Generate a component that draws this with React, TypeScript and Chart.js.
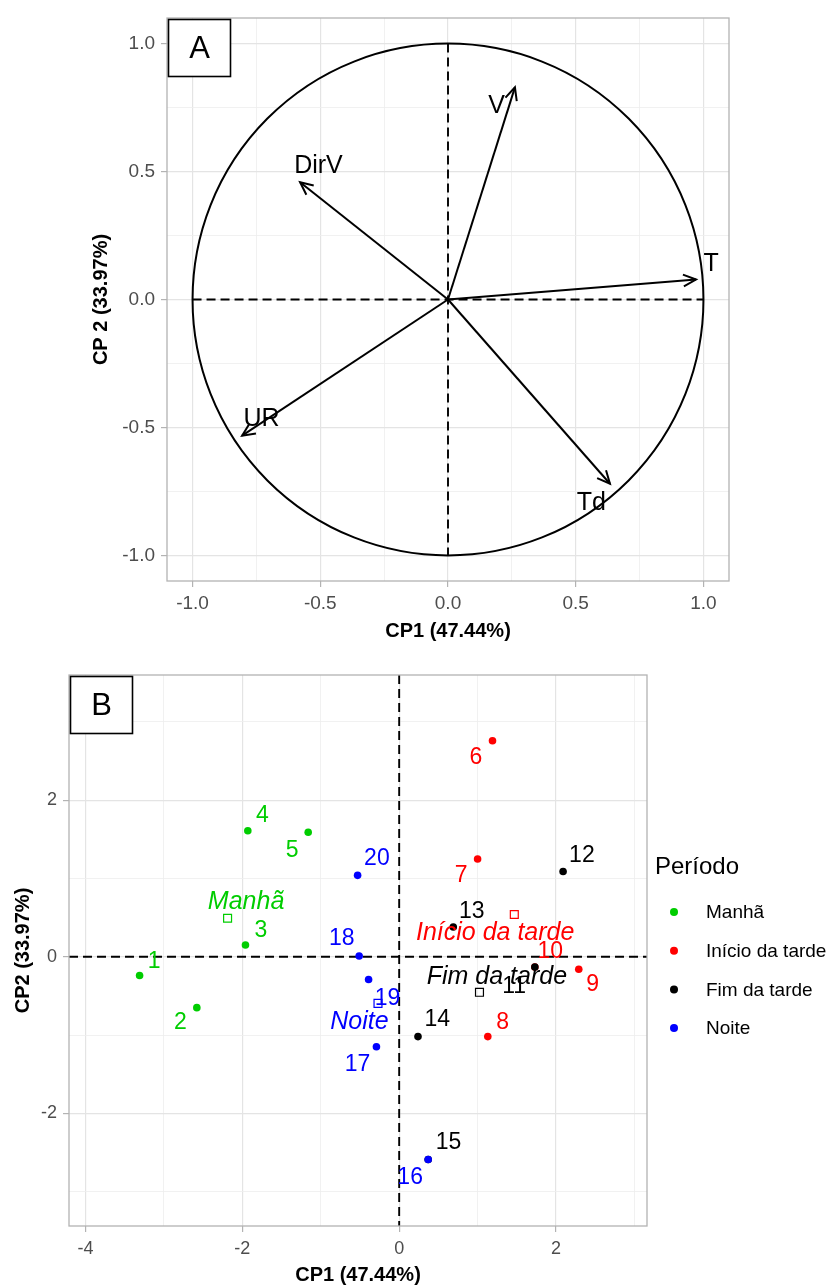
import React, { useEffect, useRef } from 'react';
import { Chart, registerables } from 'chart.js';

Chart.register(...registerables);

const FONT = '"Liberation Sans", Arial, Helvetica, sans-serif';
const TICK_TEXT = '#4D4D4D';
const GRID_MAJOR = '#E4E4E4';
const GRID_MINOR = '#EEEEEE';
const PANEL_BORDER = '#B3B3B3';

// ---------------- Panel A: variable loadings ----------------
const variableNames = ['V', 'DirV', 'T', 'UR', 'Td'];
const variableCP1 = [0.262, -0.579, 0.971, -0.806, 0.634];
const variableCP2 = [0.829, 0.458, 0.078, -0.532, -0.72];
const variableLabelCP1 = [0.19, -0.507, 1.03, -0.73, 0.561];
const variableLabelCP2 = [0.757, 0.523, 0.14, -0.466, -0.794];
const circleTicks = [-1, -0.5, 0, 0.5, 1];
const circleTickLabels = ['-1.0', '-0.5', '0.0', '0.5', '1.0'];
const circleMinorTicks = [-0.75, -0.25, 0.25, 0.75];
const circleRange = [-1.1, 1.1];

// ---------------- Panel B: observation scores ----------------
const periods = ['Manhã', 'Início da tarde', 'Fim da tarde', 'Noite'];
const periodColors = ['#00CD00', '#FF0000', '#000000', '#0000FF'];
const observationIds = ['1', '2', '3', '4', '5', '6', '7', '8', '9', '10', '11', '12', '13', '14', '15', '16', '17', '18', '19', '20'];
const observationPeriod = [0, 0, 0, 0, 0, 1, 1, 1, 1, 1, 2, 2, 2, 2, 2, 3, 3, 3, 3, 3];
const scoreCP1 = [-3.31, -2.58, -1.96, -1.93, -1.16, 1.19, 1.0, 1.13, 2.29, 1.73, 1.73, 2.09, 0.69, 0.24, 0.37, 0.37, -0.29, -0.51, -0.39, -0.53];
const scoreCP2 = [-0.24, -0.65, 0.15, 1.61, 1.59, 2.76, 1.25, -1.02, -0.16, -0.13, -0.13, 1.09, 0.38, -1.02, -2.59, -2.59, -1.15, 0.01, -0.29, 1.04];
const scoreLabelCP1 = [-3.125, -2.79, -1.764, -1.744, -1.365, 0.978, 0.79, 1.318, 2.466, 1.926, 1.467, 2.33, 0.927, 0.485, 0.629, 0.14, -0.532, -0.731, -0.149, -0.284];
const scoreLabelCP2 = [-0.064, -0.847, 0.332, 1.8, 1.355, 2.54, 1.04, -0.84, -0.358, 0.064, -0.383, 1.295, 0.579, -0.805, -2.373, -2.828, -1.38, 0.226, -0.537, 1.249];
const periodLabelCP1 = [-1.952, 1.224, 1.246, -0.506];
const periodLabelCP2 = [0.699, 0.303, -0.259, -0.84];
const scoreXTicks = [-4, -2, 0, 2];
const scoreXTickLabels = ['-4', '-2', '0', '2'];
const scoreXMinorTicks = [-3, -1, 1, 3];
const scoreYTicks = [-2, 0, 2];
const scoreYTickLabels = ['-2', '0', '2'];
const scoreYMinorTicks = [-3, -1, 1, 3];
const scoreXRange = [-4.21, 3.16];
const scoreYRange = [-3.44, 3.6];

const near = (a: number, b: number) => Math.abs(a - b) < 1e-9;

function makeAxis(o: any) {
  const all = [...o.major, ...o.minor].sort((a: number, b: number) => a - b);
  const isMajor = (v: number) => o.major.some((m: number) => near(m, v));
  return {
    type: 'linear',
    min: o.range[0],
    max: o.range[1],
    afterBuildTicks: (scale: any) => {
      scale.ticks = all.map((v: number) => ({ value: v }));
    },
    afterFit: (scale: any) => {
      if (o.isX) scale.height = o.fit;
      else scale.width = o.fit;
    },
    ticks: {
      autoSkip: false,
      maxRotation: 0,
      minRotation: 0,
      padding: o.tickPadding,
      color: TICK_TEXT,
      font: { family: FONT, size: o.tickSize },
      callback: (v: number) => {
        const i = o.major.findIndex((m: number) => near(m, v));
        return i >= 0 ? o.labels[i] : '';
      },
    },
    grid: {
      drawTicks: true,
      tickLength: 6,
      color: (c: any) => (c.tick && isMajor(c.tick.value) ? GRID_MAJOR : GRID_MINOR),
      lineWidth: (c: any) => (c.tick && isMajor(c.tick.value) ? 1.2 : 0.8),
      tickColor: (c: any) => (c.tick && isMajor(c.tick.value) ? PANEL_BORDER : 'rgba(0,0,0,0)'),
      tickWidth: 1.2,
    },
    border: { display: false },
    title: {
      display: true,
      text: o.title,
      color: '#000000',
      font: { family: FONT, size: 20, weight: 'bold', lineHeight: 1 },
      padding: o.titlePadding,
    },
  };
}

function drawPanelFrame(chart: any, tag: string) {
  const { ctx, chartArea } = chart;
  ctx.save();
  ctx.strokeStyle = PANEL_BORDER;
  ctx.lineWidth = 1.3;
  ctx.strokeRect(chartArea.left, chartArea.top, chartArea.right - chartArea.left, chartArea.bottom - chartArea.top);
  const bx = chartArea.left + 1.5;
  const by = chartArea.top + 1.5;
  const bw = 62;
  const bh = 57;
  ctx.fillStyle = '#FFFFFF';
  ctx.fillRect(bx, by, bw, bh);
  ctx.strokeStyle = '#000000';
  ctx.lineWidth = 1.6;
  ctx.strokeRect(bx, by, bw, bh);
  ctx.fillStyle = '#000000';
  ctx.font = `31px ${FONT}`;
  ctx.textAlign = 'center';
  ctx.textBaseline = 'middle';
  ctx.fillText(tag, bx + bw / 2, by + bh / 2 + 1);
  ctx.restore();
}

const loadingsPlugin = {
  id: 'loadingsDecor',
  beforeDatasetsDraw(chart: any) {
    const { ctx, scales } = chart;
    const x = scales.x;
    const y = scales.y;
    const cx = x.getPixelForValue(0);
    const cy = y.getPixelForValue(0);
    const rx = x.getPixelForValue(1) - cx;
    const ry = cy - y.getPixelForValue(1);
    ctx.save();
    ctx.strokeStyle = '#000000';
    ctx.lineWidth = 2;
    ctx.beginPath();
    ctx.ellipse(cx, cy, rx, ry, 0, 0, Math.PI * 2);
    ctx.stroke();
    ctx.setLineDash([9, 5]);
    ctx.lineWidth = 1.9;
    ctx.beginPath();
    ctx.moveTo(x.getPixelForValue(-1), cy);
    ctx.lineTo(x.getPixelForValue(1), cy);
    ctx.moveTo(cx, y.getPixelForValue(1));
    ctx.lineTo(cx, y.getPixelForValue(-1));
    ctx.stroke();
    ctx.restore();
  },
  afterDatasetsDraw(chart: any) {
    const { ctx, scales } = chart;
    const x = scales.x;
    const y = scales.y;
    const ox = x.getPixelForValue(0);
    const oy = y.getPixelForValue(0);
    ctx.save();
    ctx.strokeStyle = '#000000';
    ctx.lineWidth = 2;
    ctx.lineJoin = 'miter';
    const len = 14;
    const ang = (25 * Math.PI) / 180;
    variableNames.forEach((name, i) => {
      const tx = x.getPixelForValue(variableCP1[i]);
      const ty = y.getPixelForValue(variableCP2[i]);
      const a = Math.atan2(ty - oy, tx - ox);
      ctx.beginPath();
      ctx.moveTo(tx - len * Math.cos(a - ang), ty - len * Math.sin(a - ang));
      ctx.lineTo(tx, ty);
      ctx.lineTo(tx - len * Math.cos(a + ang), ty - len * Math.sin(a + ang));
      ctx.stroke();
    });
    ctx.fillStyle = '#000000';
    ctx.font = `25px ${FONT}`;
    ctx.textAlign = 'center';
    ctx.textBaseline = 'middle';
    variableNames.forEach((name, i) => {
      ctx.fillText(name, x.getPixelForValue(variableLabelCP1[i]), y.getPixelForValue(variableLabelCP2[i]));
    });
    ctx.restore();
  },
  afterDraw(chart: any) {
    drawPanelFrame(chart, 'A');
  },
};

const scoresPlugin = {
  id: 'scoresDecor',
  beforeDatasetsDraw(chart: any) {
    const { ctx, chartArea, scales } = chart;
    const cx = scales.x.getPixelForValue(0);
    const cy = scales.y.getPixelForValue(0);
    ctx.save();
    ctx.strokeStyle = '#000000';
    ctx.lineWidth = 1.9;
    ctx.setLineDash([9, 5]);
    ctx.beginPath();
    ctx.moveTo(chartArea.left, cy);
    ctx.lineTo(chartArea.right, cy);
    ctx.moveTo(cx, chartArea.top);
    ctx.lineTo(cx, chartArea.bottom);
    ctx.stroke();
    ctx.restore();
  },
  afterDatasetsDraw(chart: any) {
    const { ctx, scales } = chart;
    const x = scales.x;
    const y = scales.y;
    ctx.save();
    ctx.textAlign = 'center';
    ctx.textBaseline = 'middle';
    ctx.font = `23px ${FONT}`;
    observationIds.forEach((id, i) => {
      ctx.fillStyle = periodColors[observationPeriod[i]];
      ctx.fillText(id, x.getPixelForValue(scoreLabelCP1[i]), y.getPixelForValue(scoreLabelCP2[i]));
    });
    ctx.font = `italic 25px ${FONT}`;
    periods.forEach((p, g) => {
      ctx.fillStyle = periodColors[g];
      ctx.fillText(p, x.getPixelForValue(periodLabelCP1[g]), y.getPixelForValue(periodLabelCP2[g]));
    });
    ctx.restore();
  },
  afterDraw(chart: any) {
    drawPanelFrame(chart, 'B');
    const { ctx, chartArea } = chart;
    const mid = (chartArea.top + chartArea.bottom) / 2;
    ctx.save();
    ctx.textAlign = 'left';
    ctx.textBaseline = 'middle';
    ctx.fillStyle = '#000000';
    ctx.font = `24px ${FONT}`;
    ctx.fillText('Período', chartArea.right + 8, mid - 83);
    ctx.font = `19px ${FONT}`;
    periods.forEach((p, g) => {
      const yy = mid - 38.5 + g * 38.7;
      ctx.fillStyle = periodColors[g];
      ctx.beginPath();
      ctx.arc(chartArea.right + 27, yy, 4, 0, Math.PI * 2);
      ctx.fill();
      ctx.fillStyle = '#000000';
      ctx.fillText(p, chartArea.right + 59, yy + 1);
    });
    ctx.restore();
  },
};

function LoadingsChart() {
  const ref = useRef<HTMLCanvasElement>(null);
  useEffect(() => {
    const datasets = variableNames.map((name, i) => ({
      type: 'scatter',
      label: name,
      data: [
        { x: 0, y: 0 },
        { x: variableCP1[i], y: variableCP2[i] },
      ],
      showLine: true,
      borderColor: '#000000',
      borderWidth: 2,
      pointRadius: 0,
      fill: false,
    }));
    const chart = new Chart(ref.current as HTMLCanvasElement, {
      type: 'scatter',
      data: { datasets } as any,
      options: {
        animation: false,
        responsive: false,
        maintainAspectRatio: false,
        events: [],
        layout: { padding: { left: 0, top: 18, right: 103, bottom: 0 } },
        plugins: { legend: { display: false }, tooltip: { enabled: false } },
        scales: {
          x: makeAxis({
            isX: true, range: circleRange, major: circleTicks, minor: circleMinorTicks, labels: circleTickLabels,
            fit: 64, tickPadding: 5, tickSize: 19, title: 'CP1 (47.44%)', titlePadding: { top: 0, bottom: 4 },
          }),
          y: makeAxis({
            isX: false, range: circleRange, major: circleTicks, minor: circleMinorTicks, labels: circleTickLabels,
            fit: 167, tickPadding: 6, tickSize: 19, title: 'CP 2 (33.97%)', titlePadding: { top: 91, bottom: 0 },
          }),
        } as any,
      },
      plugins: [loadingsPlugin],
    } as any);
    return () => chart.destroy();
  }, []);
  return <canvas ref={ref} width={832} height={645} style={{ display: 'block' }} />;
}

function ScoresChart() {
  const ref = useRef<HTMLCanvasElement>(null);
  useEffect(() => {
    const groupDatasets = periods.map((p, g) => {
      const idx = observationIds.map((_, i) => i).filter((i) => observationPeriod[i] === g);
      return {
        type: 'scatter',
        label: p,
        data: idx.map((i) => ({ x: scoreCP1[i], y: scoreCP2[i] })),
        backgroundColor: periodColors[g],
        borderColor: periodColors[g],
        pointRadius: 3.8,
        pointBorderWidth: 0,
        order: 10 - g,
      };
    });
    const centroids = periods.map((_, g) => {
      const idx = observationIds.map((__, i) => i).filter((i) => observationPeriod[i] === g);
      const mx = idx.reduce((s, i) => s + scoreCP1[i], 0) / idx.length;
      const my = idx.reduce((s, i) => s + scoreCP2[i], 0) / idx.length;
      return { x: mx, y: my };
    });
    const centroidDataset = {
      type: 'scatter',
      label: 'centroides',
      data: centroids,
      pointStyle: 'rect',
      pointRadius: 5.6,
      backgroundColor: 'rgba(255,255,255,0)',
      borderColor: periodColors,
      pointBorderWidth: 1.2,
      order: 0,
    };
    const chart = new Chart(ref.current as HTMLCanvasElement, {
      type: 'scatter',
      data: { datasets: [...groupDatasets, centroidDataset] } as any,
      options: {
        animation: false,
        responsive: false,
        maintainAspectRatio: false,
        events: [],
        layout: { padding: { left: 0, top: 30, right: 185, bottom: 0 } },
        plugins: { legend: { display: false }, tooltip: { enabled: false } },
        scales: {
          x: makeAxis({
            isX: true, range: scoreXRange, major: scoreXTicks, minor: scoreXMinorTicks, labels: scoreXTickLabels,
            fit: 60, tickPadding: 6, tickSize: 18, title: 'CP1 (47.44%)', titlePadding: { top: 0, bottom: 0.5 },
          }),
          y: makeAxis({
            isX: false, range: scoreYRange, major: scoreYTicks, minor: scoreYMinorTicks, labels: scoreYTickLabels,
            fit: 69, tickPadding: 6, tickSize: 18, title: 'CP2 (33.97%)', titlePadding: { top: 13.5, bottom: 0 },
          }),
        } as any,
      },
      plugins: [scoresPlugin],
    } as any);
    return () => chart.destroy();
  }, []);
  return <canvas ref={ref} width={832} height={641} style={{ display: 'block' }} />;
}

export default function App() {
  return (
    <div style={{ position: 'absolute', left: 0, top: 0, width: 832, height: 1286, overflow: 'hidden', background: '#FFFFFF' }}>
      <div style={{ position: 'absolute', left: 0, top: 0, width: 832, height: 645 }}>
        <LoadingsChart />
      </div>
      <div style={{ position: 'absolute', left: 0, top: 645, width: 832, height: 641 }}>
        <ScoresChart />
      </div>
    </div>
  );
}
